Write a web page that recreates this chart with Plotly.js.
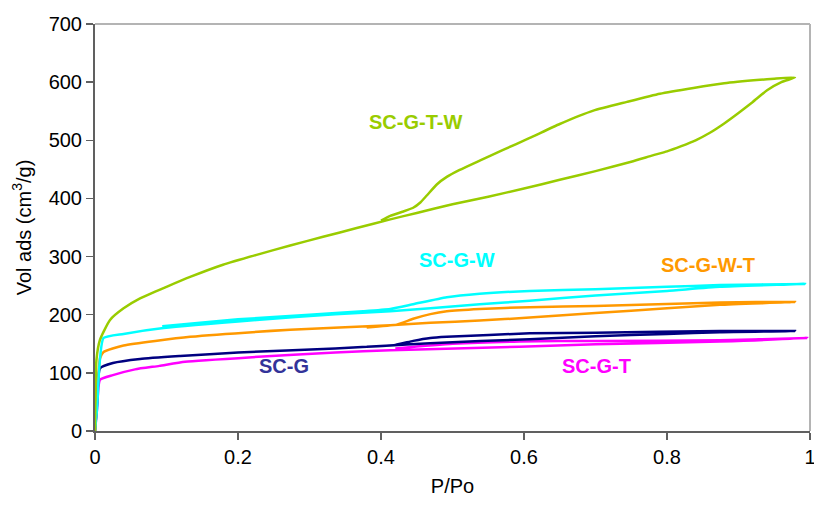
<!DOCTYPE html>
<html><head><meta charset="utf-8">
<script src="https://cdn.plot.ly/plotly-3.0.1.min.js"></script>
<style>body{margin:0;background:#fff}#chart{width:814px;height:505px}</style>
</head><body><div id="chart"></div>
<script>
// SC-G-T-W (adsorption then desorption)
const tw_x = [0, 0.002, 0.007, 0.021, 0.04, 0.063, 0.1, 0.133, 0.179, 0.226, 0.273, 0.319, 0.366, 0.413, 0.45, 0.5, 0.55, 0.6, 0.65, 0.7, 0.75, 0.78, 0.8, 0.82, 0.84, 0.86, 0.88, 0.9, 0.92, 0.94, 0.96, 0.979,
              0.95, 0.93, 0.88, 0.837, 0.79, 0.744, 0.697, 0.65, 0.608, 0.57, 0.538, 0.51, 0.492, 0.478, 0.464, 0.455, 0.445, 0.43, 0.413, 0.4];
const tw_y = [0, 122, 157, 191, 211, 228, 248, 265, 286, 303, 319, 334, 349, 364, 375, 390, 403, 417, 432, 447, 463, 474, 481, 490, 500, 513, 529, 547, 566, 586, 600, 608,
              606, 604, 598, 590, 580, 566, 551, 528, 504, 483, 465, 449, 437, 424, 405, 393, 384, 377, 370, 362];
// SC-G-W
const w_x = [0, 0.003, 0.006, 0.012, 0.04, 0.096, 0.226, 0.336, 0.413, 0.469, 0.538, 0.608, 0.7, 0.8, 0.874, 0.993,
             0.874, 0.8, 0.7, 0.608, 0.538, 0.492, 0.445, 0.413, 0.375, 0.3, 0.2, 0.094];
const w_y = [0, 40, 110, 160, 167, 177, 191, 201, 206, 211, 218, 224, 233, 241, 248, 253,
             251, 248, 244, 241, 236, 230, 218, 210, 206, 200, 192, 180];
// SC-G-W-T
const wt_x = [0, 0.003, 0.007, 0.012, 0.04, 0.133, 0.273, 0.413, 0.469, 0.538, 0.608, 0.7, 0.8, 0.874, 0.979,
              0.874, 0.7, 0.608, 0.538, 0.492, 0.469, 0.445, 0.422, 0.38];
const wt_y = [0, 60, 125, 136, 147, 162, 174, 182, 186, 190, 195, 203, 211, 217, 222,
              221, 215, 213, 210, 206, 201, 193, 183, 178];
// SC-G
const g_x = [0, 0.003, 0.007, 0.025, 0.063, 0.119, 0.2, 0.336, 0.413, 0.469, 0.608, 0.7, 0.8, 0.874, 0.979,
             0.874, 0.7, 0.608, 0.492, 0.469, 0.445, 0.42, 0.38];
const g_y = [0, 50, 108, 117, 124, 129, 135, 142, 147, 151, 158, 163, 167, 170, 172,
             172, 169, 168, 162, 160, 155, 148, 145];
// SC-G-T
const t_x = [0, 0.003, 0.007, 0.025, 0.056, 0.09, 0.126, 0.22, 0.336, 0.413, 0.594, 0.7, 0.874, 0.996,
             0.874, 0.7, 0.594, 0.5, 0.42];
const t_y = [0, 40, 88, 96, 106, 112, 119, 127, 135, 139, 145, 149, 154, 160,
             156, 155, 154, 150, 142];

const labels = ["SC-G-T-W", "SC-G-W", "SC-G-W-T", "SC-G", "SC-G-T"];
const label_x = [0.448, 0.506, 0.857, 0.264, 0.702];
const label_y = [531, 294, 286, 112, 112];
const colors = ["#99CC00", "#00FFFF", "#FF9900", "#000080", "#FF00FF"];
const labelColors = ["#99CC00", "#00FFFF", "#FF9900", "#333399", "#FF00FF"];
const xTicks = [0, 0.2, 0.4, 0.6, 0.8, 1];
const xTickText = ["0", "0.2", "0.4", "0.6", "0.8", "1"];

const series = [[tw_x, tw_y], [w_x, w_y], [wt_x, wt_y], [g_x, g_y], [t_x, t_y]];
const drawOrder = [4, 3, 2, 1, 0];
const traces = drawOrder.map(i => ({
  x: series[i][0], y: series[i][1], type: 'scatter', mode: 'lines', name: labels[i],
  line: {color: colors[i], width: 2.5, shape: 'spline', smoothing: 0.5}, hoverinfo: 'skip'
}));

const F = 'Liberation Sans, Arial, sans-serif';
const annotations = labels.map((t, i) => ({
  x: label_x[i], y: label_y[i], xref: 'x', yref: 'y', text: '<b>' + t + '</b>', showarrow: false,
  font: {family: F, size: 20, color: labelColors[i]}
}));

const layout = {
  width: 814, height: 505,
  margin: {l: 95, r: 4, t: 24, b: 74},
  paper_bgcolor: '#fff', plot_bgcolor: '#fff',
  showlegend: false,
  font: {family: F, size: 20, color: '#000'},
  xaxis: {
    range: [0, 1], tickmode: 'array', tickvals: xTicks, ticktext: xTickText,
    ticklabeloverflow: 'allow',
    showgrid: false, zeroline: false,
    showline: true, linecolor: '#606060', linewidth: 2,
    ticks: 'outside', ticklen: 7, tickcolor: '#606060', tickwidth: 1.5,
    tickfont: {family: F, size: 20},
    title: {text: 'P/Po', font: {family: F, size: 20}, standoff: 12}
  },
  yaxis: {
    range: [0, 700], dtick: 100, showgrid: false, zeroline: false,
    showline: true, linecolor: '#606060', linewidth: 2,
    ticks: 'outside', ticklen: 7, tickcolor: '#606060', tickwidth: 1.5,
    tickfont: {family: F, size: 20},
    title: {text: 'Vol ads (cm<sup>3</sup>/g)', font: {family: F, size: 20}, standoff: 12}
  },
  shapes: [
    {type: 'line', xref: 'paper', yref: 'paper', x0: 0, x1: 1, y0: 1, y1: 1, line: {color: '#b4b4b4', width: 2}},
    {type: 'line', xref: 'paper', yref: 'paper', x0: 1, x1: 1, y0: 0, y1: 1, line: {color: '#b4b4b4', width: 2}}
  ],
  annotations: annotations
};

Plotly.newPlot('chart', traces, layout, {displayModeBar: false, staticPlot: true});
</script>
</body></html>
